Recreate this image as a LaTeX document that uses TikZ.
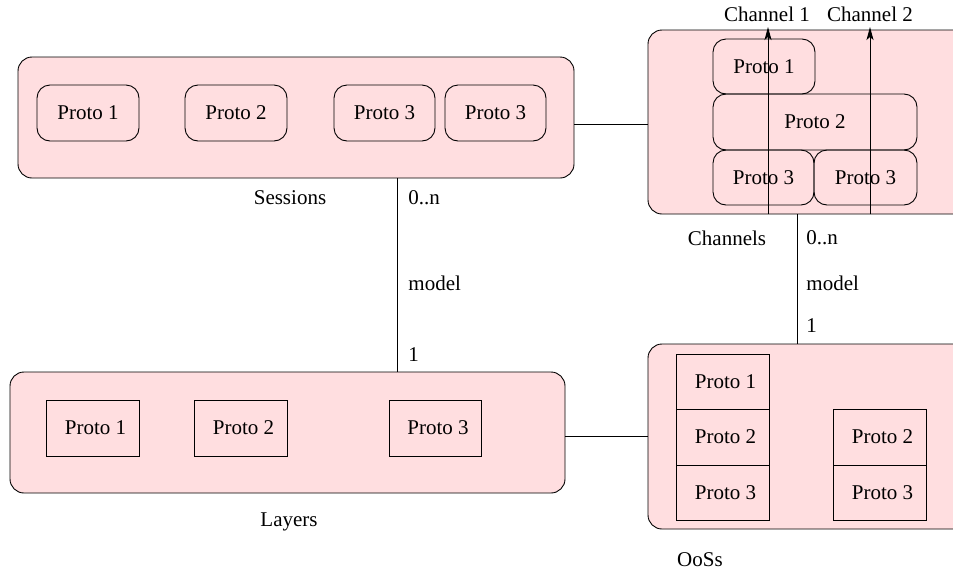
\documentclass[tikz,border=0pt]{standalone}
\usepackage{fontspec}
\setmainfont{Liberation Serif}
\usetikzlibrary{arrows.meta}
\definecolor{boxpink}{RGB}{255,222,224}
\begin{document}
\begin{tikzpicture}[x=1pt,y=-1pt, line width=0.9pt,
  every node/.style={font=\fontsize{21}{25}\selectfont},
  bigbox/.style={draw, fill=boxpink, rounded corners=14pt, inner sep=0pt},
  rbox/.style={draw, rounded corners=13pt, inner sep=0pt},
  sbox/.style={draw, inner sep=0pt},
  lbl/.style={inner sep=0pt},
  upArrow/.style={-{Stealth[length=13pt,width=7pt,inset=3pt]}}]
\useasboundingbox (0,0) rectangle (953,571);
\clip (0,0) rectangle (953,571);
% big containers
\node[bigbox, minimum width=556pt, minimum height=121pt] (sess) at (296,117.5) {};
\node[bigbox, minimum width=340pt, minimum height=184pt] (chan) at (818,122) {};
\node[bigbox, minimum width=555pt, minimum height=121pt] (lay) at (287.5,432.5) {};
\node[bigbox, minimum width=340pt, minimum height=185pt] (qos) at (818,436.5) {};
% sessions protos
\node[rbox, minimum width=102pt, minimum height=56pt] (s1) at (88,113) {Proto 1};
\node[rbox, minimum width=102pt, minimum height=56pt] (s2) at (236,113) {Proto 2};
\node[rbox, minimum width=101pt, minimum height=56pt] (s3) at (384.5,113) {Proto 3};
\node[rbox, minimum width=101pt, minimum height=56pt] (s4) at (495.5,113) {Proto 3};
% channels protos
\node[rbox, minimum width=102pt, minimum height=55pt] (c1) at (764,66.5) {Proto 1};
\node[rbox, minimum width=204pt, minimum height=56pt] (c2) at (815,122) {Proto 2};
\node[rbox, minimum width=101pt, minimum height=55pt] (c3) at (763.5,177.5) {Proto 3};
\node[rbox, minimum width=103pt, minimum height=55pt] (c4) at (865.5,177.5) {Proto 3};
% layers protos
\node[sbox, minimum width=93pt, minimum height=56pt] (l1) at (92.5,428) {\hspace*{6pt}Proto 1};
\node[sbox, minimum width=93pt, minimum height=56pt] (l2) at (240.5,428) {\hspace*{6pt}Proto 2};
\node[sbox, minimum width=92pt, minimum height=56pt] (l3) at (435,428) {\hspace*{6pt}Proto 3};
% qos protos
\node[sbox, minimum width=93pt, minimum height=55pt] (q1) at (722.5,381.5) {\hspace*{6pt}Proto 1};
\node[sbox, minimum width=93pt, minimum height=56pt] (q2) at (722.5,437) {\hspace*{6pt}Proto 2};
\node[sbox, minimum width=93pt, minimum height=55pt] (q3) at (722.5,492.5) {\hspace*{6pt}Proto 3};
\node[sbox, minimum width=93pt, minimum height=56pt] (q4) at (879.5,437) {\hspace*{6pt}Proto 2};
\node[sbox, minimum width=93pt, minimum height=55pt] (q5) at (879.5,492.5) {\hspace*{6pt}Proto 3};
% labels
\node[lbl] (lsess) at (290,198) {Sessions};
\node[lbl] (lchan) at (727,238) {Channels};
\node[lbl] (llay) at (289,522) {Layers};
\node[lbl] (lqos) at (700,560) {OoSs};
\node[lbl, anchor=west] (m1a) at (408,198) {0..n};
\node[lbl, anchor=west] (m1b) at (408,283) {model};
\node[lbl, anchor=west] (m1c) at (408,355) {1};
\node[lbl, anchor=west] (m2a) at (806,238) {0..n};
\node[lbl, anchor=west] (m2b) at (806,283) {model};
\node[lbl, anchor=west] (m2c) at (806,326) {1};
\node[lbl] (ch1) at (767,14) {Channel 1};
\node[lbl] (ch2) at (870,14) {Channel 2};
% connectors
\coordinate (v1) at (397,0);
\coordinate (v2) at (797,0);
\coordinate (t1) at (768,27);
\coordinate (t2) at (870,27);
\draw (sess.east |- 0,124) -- (chan.west |- 0,124);
\draw (lay.east |- 0,436) -- (qos.west |- 0,436);
\draw (sess.south -| v1) -- (lay.north -| v1);
\draw (chan.south -| v2) -- (qos.north -| v2);
\draw[upArrow] (chan.south -| t1) -- (t1);
\draw[upArrow] (chan.south -| t2) -- (t2);
\end{tikzpicture}
\end{document}
